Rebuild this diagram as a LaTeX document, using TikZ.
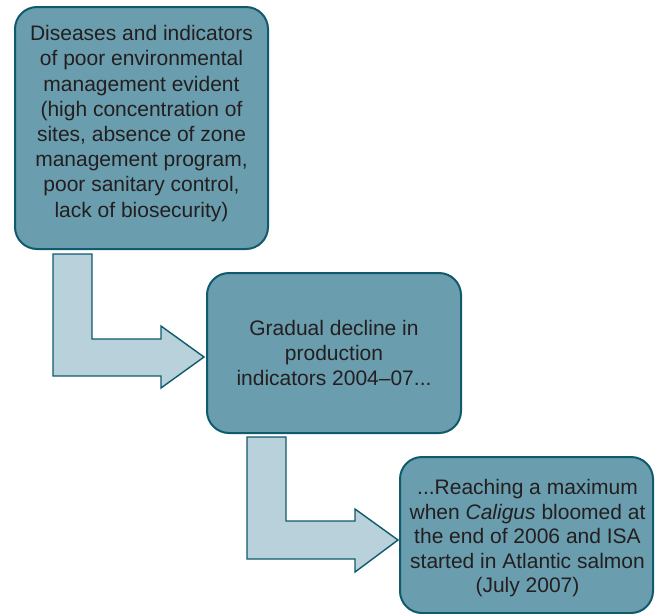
\documentclass[tikz,border=0pt]{standalone}
\usepackage{fontspec}
\setmainfont{Liberation Sans}
\definecolor{boxfill}{HTML}{6A9DAD}
\definecolor{boxline}{HTML}{0F5A6D}
\definecolor{arrowfill}{HTML}{B8D1DB}
\definecolor{inktext}{HTML}{231F20}
\begin{document}
\begin{tikzpicture}[x=1pt,y=-1pt,
  stage/.style={draw=boxline, fill=boxfill, line width=2pt, rounded corners=22pt,
    inner sep=0pt},
  stagetext/.style={text=inktext, align=center, inner sep=0pt,
    font=\fontsize{21}{25.2}\selectfont},
  blockarrow/.style={draw=boxline, fill=arrowfill, line width=1.4pt, line join=miter}]
\useasboundingbox (0,0) rectangle (657,614);

% stage boxes
\node[stage, minimum width=253pt, minimum height=242pt] (b1) at (141.5,128) {};
\node[stage, minimum width=254pt, minimum height=160pt] (b2) at (334,353) {};
\node[stage, minimum width=253pt, minimum height=156pt] (b3) at (526.5,535) {};

% stage texts
\node[stagetext] (t1) at (141.5,123.4) {Diseases and indicators\\of poor environmental\\management evident\\(high concentration of\\sites, absence of zone\\management program,\\poor sanitary control,\\lack of biosecurity)};
\node[stagetext, font=\fontsize{21}{25}\selectfont] (t2) at (334,352.5) {Gradual decline in\\production\\indicators 2004–07...};
\node[stagetext, font=\fontsize{21}{24.5}\selectfont] (t3) at (527.5,538.5) {...Reaching a maximum\\when \textit{Caligus} bloomed at\\the end of 2006 and ISA\\started in Atlantic salmon\\(July 2007)};

% bent block arrows between the stages
\draw[blockarrow] (53,254) -- (92,254) -- (92,339) -- (161,339) -- (161,326)
  -- (204,357) -- (161,388) -- (161,376) -- (53,376) -- cycle;
\draw[blockarrow] (247,437) -- (286,437) -- (286,521) -- (355,521) -- (355,509)
  -- (398,540) -- (355,572) -- (355,559) -- (247,559) -- cycle;
\end{tikzpicture}
\end{document}
